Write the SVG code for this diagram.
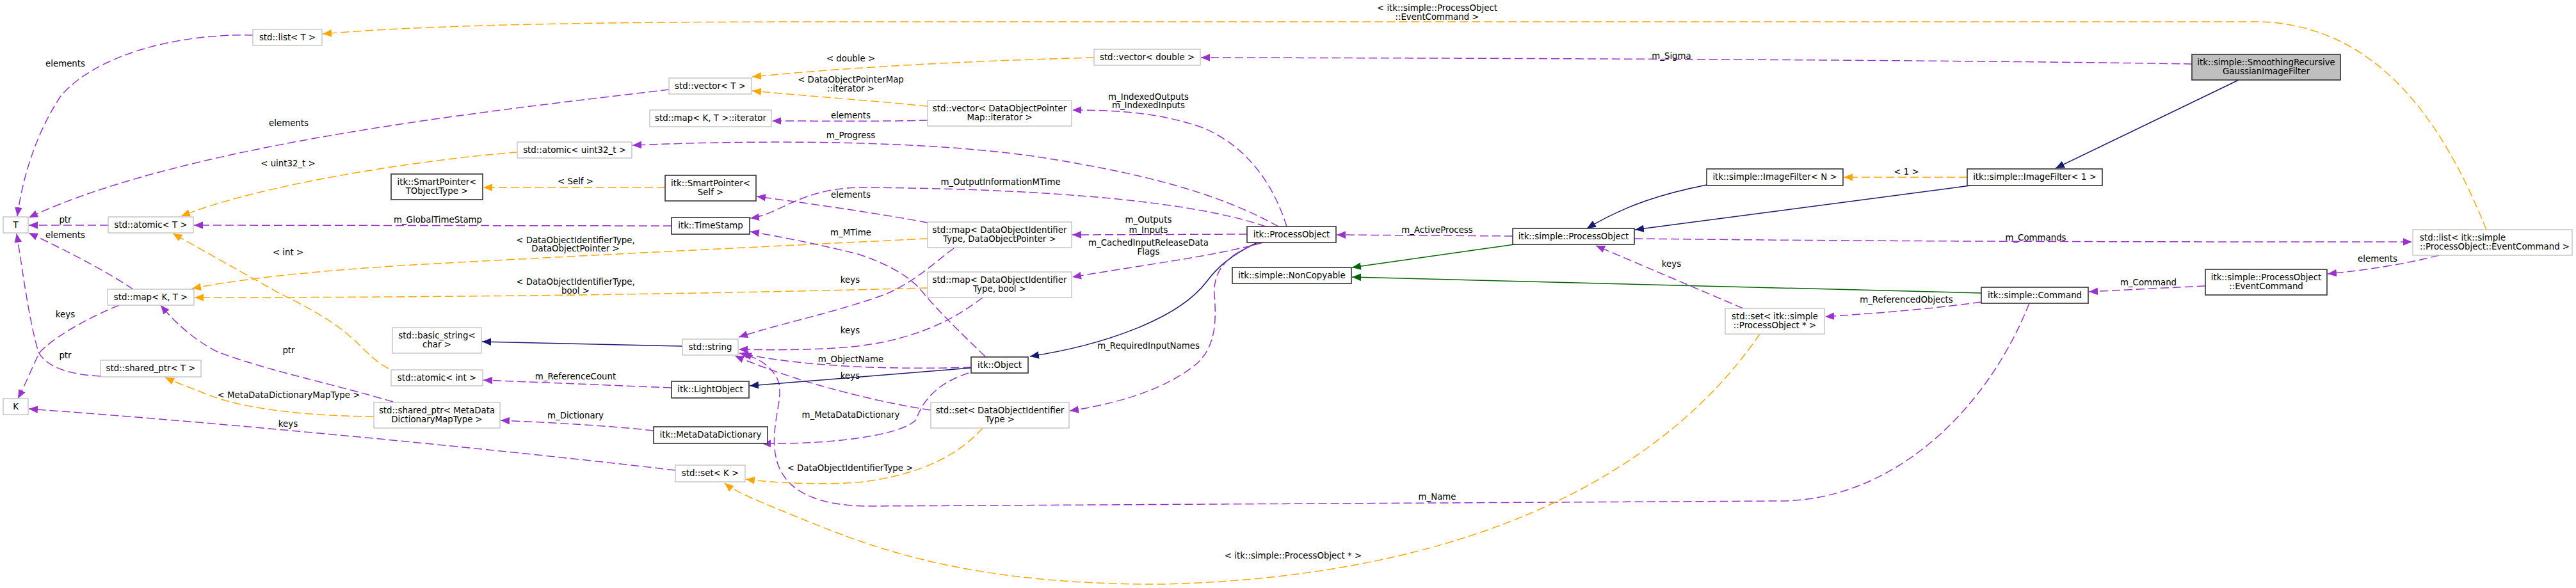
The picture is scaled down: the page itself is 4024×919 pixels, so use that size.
<svg xmlns="http://www.w3.org/2000/svg" width="4024" height="919" viewBox="0 0 4024 919">
<defs>
<style>
text{font-family:"DejaVu Sans","Liberation Sans",sans-serif;font-size:13.33px;fill:#000}
.m{text-anchor:middle}
.g{fill:#fff;stroke:#bfbfbf;stroke-width:1.3}
.b{fill:#fff;stroke:#333;stroke-width:1.6}
.s{fill:#bfbfbf;stroke:#333;stroke-width:1.6}
.ep{fill:none;stroke:#9a32cd;stroke-width:1.5;stroke-dasharray:13,6;marker-end:url(#ap)}
.eo{fill:none;stroke:#ffa500;stroke-width:1.5;stroke-dasharray:13,6;marker-end:url(#ao)}
.eb{fill:none;stroke:#191970;stroke-width:1.5;marker-end:url(#ab)}
.eg{fill:none;stroke:#006400;stroke-width:1.5;marker-end:url(#ag)}
</style>
<marker id="ap" markerUnits="userSpaceOnUse" markerWidth="14" markerHeight="12" viewBox="0 0 12 10" refX="12" refY="5" orient="auto"><path d="M0,0 L12,5 L0,10 z" fill="#9a32cd"/></marker>
<marker id="ao" markerUnits="userSpaceOnUse" markerWidth="14" markerHeight="12" viewBox="0 0 12 10" refX="12" refY="5" orient="auto"><path d="M0,0 L12,5 L0,10 z" fill="#ffa500"/></marker>
<marker id="ab" markerUnits="userSpaceOnUse" markerWidth="14" markerHeight="12" viewBox="0 0 12 10" refX="12" refY="5" orient="auto"><path d="M0,0 L12,5 L0,10 z" fill="#191970"/></marker>
<marker id="ag" markerUnits="userSpaceOnUse" markerWidth="14" markerHeight="12" viewBox="0 0 12 10" refX="12" refY="5" orient="auto"><path d="M0,0 L12,5 L0,10 z" fill="#006400"/></marker>
</defs>
<rect width="4024" height="919" fill="#fff"/>
<g id="edges">
<path class="eb" d="M3497,125 L3211,263"/>
<path class="eo" d="M3073,277 L2880,277"/>
<path class="eb" d="M3078,290 L2554,359"/>
<path class="eb" d="M2666,289 C2600,302 2540,320 2479,357"/>
<path class="ep" d="M3424,100 C3000,93 2300,91 1876,90"/>
<path class="eo" d="M1709,90 C1530,95 1350,103 1175,120"/>
<path class="eo" d="M1449,166 C1360,157 1260,150 1175,142"/>
<path class="ep" d="M1449,188 C1370,190 1290,189 1206,189"/>
<path class="ep" d="M2010,354 C1990,290 1950,230 1880,200 C1810,175 1740,172 1675,172"/>
<path class="ep" d="M1997,354 C1900,300 1780,270 1620,245 C1450,220 1200,218 988,227"/>
<path class="eo" d="M808,238 C650,250 400,290 283,338"/>
<path class="ep" d="M1449,348 C1380,335 1280,320 1182,307"/>
<path class="ep" d="M1977,354 C1850,310 1600,295 1350,293 C1250,293 1220,335 1172,341"/>
<path class="eo" d="M1449,373 C1200,385 900,400 680,412 C500,422 380,435 300,451"/>
<path class="eo" d="M1449,450 C1000,462 600,465 304,465"/>
<path class="ep" d="M1490,388 C1460,410 1430,440 1383,460 C1300,490 1220,505 1154,527"/>
<path class="ep" d="M1535,465 C1490,500 1430,530 1340,541 C1270,548 1200,547 1154,546"/>
<path class="ep" d="M1517,574 C1400,578 1260,574 1155,552"/>
<path class="ep" d="M1454,641 C1380,630 1250,600 1148,556"/>
<path class="ep" d="M3170,474 C3100,650 2950,783 2780,783 L1360,791 C1280,791 1215,770 1210,700 C1206,650 1230,610 1210,585 C1200,570 1185,560 1160,553"/>
<path class="eb" d="M1066,541 L753,534"/>
<path class="ep" d="M1049,606 L755,594"/>
<path class="eb" d="M1517,575 L1171,603"/>
<path class="eb" d="M1964,379 C1920,400 1900,420 1885,440 C1840,500 1720,540 1609,557"/>
<path class="ep" d="M1021,673 C950,665 850,660 782,657"/>
<path class="ep" d="M1513,583 C1460,600 1440,630 1431,656 C1410,680 1300,695 1190,693"/>
<path class="eo" d="M1535,669 C1490,720 1420,745 1340,754 C1280,758 1210,755 1165,749"/>
<path class="eo" d="M2749,522 C2600,740 2300,900 1820,913 C1500,915 1350,850 1250,810 C1190,785 1150,770 1132,755"/>
<path class="ep" d="M1055,735 C800,705 400,665 45,639"/>
<path class="eo" d="M584,651 C480,650 380,640 320,615 C295,605 275,598 258,590"/>
<path class="ep" d="M614,628 C520,600 420,580 340,550 C300,530 270,500 251,477"/>
<path class="ep" d="M157,588 C100,585 70,570 60,550 C45,500 35,420 26,365"/>
<path class="ep" d="M186,477 C130,500 80,530 61,552 C50,575 40,600 28,623"/>
<path class="ep" d="M208,452 C160,420 90,385 45,364"/>
<path class="ep" d="M169,352 L45,352"/>
<path class="eo" d="M607,576 C580,562 565,540 540,520 C510,495 470,475 434,457 L270,365"/>
<path class="ep" d="M1049,353 L303,352"/>
<path class="ep" d="M1045,140 C800,170 300,220 45,340"/>
<path class="ep" d="M395,55 C280,52 150,85 95,150 C55,210 35,280 27,338"/>
<path class="eo" d="M3884,359 C3820,200 3720,40 3530,34 L1300,34 C900,34 650,40 504,53"/>
<path class="ep" d="M2553,373 C3000,378 3400,378 3768,378"/>
<path class="ep" d="M3810,399 C3760,412 3700,422 3636,428"/>
<path class="ep" d="M3445,447 C3380,450 3320,453 3263,456"/>
<path class="eg" d="M3095,458 L2112,433"/>
<path class="eg" d="M2366,382 L2112,418"/>
<path class="ep" d="M2363,369 L2088,367"/>
<path class="ep" d="M2723,482 L2493,384"/>
<path class="ep" d="M3095,472 C3000,485 2920,490 2851,495"/>
<path class="ep" d="M1948,366 L1675,367"/>
<path class="ep" d="M1973,379 C1900,400 1780,415 1675,433"/>
<path class="ep" d="M1970,379 C1920,395 1895,420 1897,460 C1900,500 1900,540 1870,568 C1820,610 1740,632 1671,642"/>
<path class="ep" d="M1539,557 C1500,520 1460,480 1440,455 C1420,430 1380,410 1340,397 C1270,380 1220,370 1172,362"/>
<path class="eo" d="M1039,293 L755,293"/>
</g>
<g id="edge-labels">
<text class="m" x="102" y="104">elements</text>
<text class="m" x="451" y="197">elements</text>
<text class="m" x="450" y="260">&lt; uint32_t &gt;</text>
<text class="m" x="102" y="348">ptr</text>
<text class="m" x="102" y="372">elements</text>
<text class="m" x="450" y="399">&lt; int &gt;</text>
<text class="m" x="684" y="348">m_GlobalTimeStamp</text>
<text class="m" x="102" y="496">keys</text>
<text class="m" x="102" y="560">ptr</text>
<text class="m" x="451" y="552">ptr</text>
<text class="m" x="451" y="622">&lt; MetaDataDictionaryMapType &gt;</text>
<text class="m" x="450" y="667">keys</text>
<text class="m" x="1329" y="96">&lt; double &gt;</text>
<text class="m" x="1329" y="129">&lt; DataObjectPointerMap</text>
<text class="m" x="1329" y="143">::iterator &gt;</text>
<text class="m" x="1329" y="185">elements</text>
<text class="m" x="1329" y="216">m_Progress</text>
<text class="m" x="899" y="288">&lt; Self &gt;</text>
<text class="m" x="1329" y="309">elements</text>
<text class="m" x="1329" y="368">m_MTime</text>
<text class="m" x="899" y="380">&lt; DataObjectIdentifierType,</text>
<text class="m" x="899" y="393">DataObjectPointer &gt;</text>
<text class="m" x="899" y="445">&lt; DataObjectIdentifierType,</text>
<text class="m" x="899" y="459">bool &gt;</text>
<text class="m" x="1328" y="442">keys</text>
<text class="m" x="1328" y="521">keys</text>
<text class="m" x="1329" y="566">m_ObjectName</text>
<text class="m" x="1328" y="592">keys</text>
<text class="m" x="899" y="593">m_ReferenceCount</text>
<text class="m" x="899" y="654">m_Dictionary</text>
<text class="m" x="1329" y="653">m_MetaDataDictionary</text>
<text class="m" x="1328" y="736">&lt; DataObjectIdentifierType &gt;</text>
<text class="m" x="1794" y="156">m_IndexedOutputs</text>
<text class="m" x="1794" y="169">m_IndexedInputs</text>
<text class="m" x="1563" y="289">m_OutputInformationMTime</text>
<text class="m" x="1794" y="348">m_Outputs</text>
<text class="m" x="1794" y="364">m_Inputs</text>
<text class="m" x="1794" y="384">m_CachedInputReleaseData</text>
<text class="m" x="1794" y="398">Flags</text>
<text class="m" x="1794" y="545">m_RequiredInputNames</text>
<text class="m" x="2020" y="873">&lt; itk::simple::ProcessObject * &gt;</text>
<text class="m" x="2245" y="17">&lt; itk::simple::ProcessObject</text>
<text class="m" x="2245" y="31">::EventCommand &gt;</text>
<text class="m" x="2611" y="92">m_Sigma</text>
<text class="m" x="2245" y="364">m_ActiveProcess</text>
<text class="m" x="2611" y="417">keys</text>
<text class="m" x="2978" y="273">&lt; 1 &gt;</text>
<text class="m" x="3180" y="376">m_Commands</text>
<text class="m" x="3356" y="446">m_Command</text>
<text class="m" x="2978" y="473">m_ReferencedObjects</text>
<text class="m" x="3714" y="409">elements</text>
<text class="m" x="2245" y="781">m_Name</text>
</g>
<g id="n_list_T"><rect class="g" x="395" y="46" width="108" height="25"/><text class="m" x="449" y="63">std::list&lt; T &gt;</text></g>
<g id="n_T"><rect class="g" x="5" y="339" width="39" height="25"/><text class="m" x="24.5" y="356">T</text></g>
<g id="n_atomic_T"><rect class="g" x="169" y="339" width="133" height="25"/><text class="m" x="235.5" y="356">std::atomic&lt; T &gt;</text></g>
<g id="n_map_KT"><rect class="g" x="168" y="452" width="135" height="25"/><text class="m" x="235.5" y="469">std::map&lt; K, T &gt;</text></g>
<g id="n_K"><rect class="g" x="5" y="623" width="39" height="25"/><text class="m" x="24.5" y="640">K</text></g>
<g id="n_shared_ptr_T"><rect class="g" x="157" y="563" width="157" height="26"/><text class="m" x="235.5" y="580">std::shared_ptr&lt; T &gt;</text></g>
<g id="n_shared_ptr_MD"><rect class="g" x="584" y="629" width="197" height="40"/><text class="m" x="682.5" y="646">std::shared_ptr&lt; MetaData</text><text class="m" x="682.5" y="660">DictionaryMapType &gt;</text></g>
<g id="n_basic_string"><rect class="g" x="613" y="512" width="139" height="40"/><text class="m" x="682.5" y="529">std::basic_string&lt;</text><text class="m" x="682.5" y="543">char &gt;</text></g>
<g id="n_atomic_int"><rect class="g" x="611" y="578" width="143" height="25"/><text class="m" x="682.5" y="595">std::atomic&lt; int &gt;</text></g>
<g id="n_vector_T"><rect class="g" x="1045" y="122" width="129" height="25"/><text class="m" x="1109.5" y="139">std::vector&lt; T &gt;</text></g>
<g id="n_map_iter"><rect class="g" x="1015" y="172" width="190" height="26"/><text class="m" x="1110" y="189">std::map&lt; K, T &gt;::iterator</text></g>
<g id="n_atomic_u32"><rect class="g" x="808" y="222" width="179" height="25"/><text class="m" x="897.5" y="239">std::atomic&lt; uint32_t &gt;</text></g>
<g id="n_string"><rect class="g" x="1066" y="530" width="87" height="25"/><text class="m" x="1109.5" y="547">std::string</text></g>
<g id="n_set_K"><rect class="g" x="1055" y="727" width="109" height="26"/><text class="m" x="1109.5" y="744">std::set&lt; K &gt;</text></g>
<g id="n_vector_double"><rect class="g" x="1709" y="77" width="166" height="25"/><text class="m" x="1792" y="94">std::vector&lt; double &gt;</text></g>
<g id="n_vector_DOP"><rect class="g" x="1449" y="157" width="225" height="40"/><text class="m" x="1561.5" y="174">std::vector&lt; DataObjectPointer</text><text class="m" x="1561.5" y="188">Map::iterator &gt;</text></g>
<g id="n_map_DOI_DOP"><rect class="g" x="1449" y="347" width="225" height="40"/><text class="m" x="1561.5" y="364">std::map&lt; DataObjectIdentifier</text><text class="m" x="1561.5" y="378">Type, DataObjectPointer &gt;</text></g>
<g id="n_map_DOI_bool"><rect class="g" x="1449" y="425" width="225" height="40"/><text class="m" x="1561.5" y="442">std::map&lt; DataObjectIdentifier</text><text class="m" x="1561.5" y="456">Type, bool &gt;</text></g>
<g id="n_set_DOI"><rect class="g" x="1454" y="629" width="216" height="40"/><text class="m" x="1562" y="646">std::set&lt; DataObjectIdentifier</text><text class="m" x="1562" y="660">Type &gt;</text></g>
<g id="n_set_PO"><rect class="g" x="2695" y="482" width="155" height="40"/><text class="m" x="2772.5" y="499">std::set&lt; itk::simple</text><text class="m" x="2772.5" y="513">::ProcessObject * &gt;</text></g>
<g id="n_list_EC"><rect class="g" x="3769" y="359" width="249" height="40"/><text x="3780" y="376">std::list&lt; itk::simple</text><text x="3780" y="390">::ProcessObject::EventCommand &gt;</text></g>
<g id="n_sp_TObj"><rect class="b" x="611" y="272" width="143" height="40"/><text class="m" x="682.5" y="289">itk::SmartPointer&lt;</text><text class="m" x="682.5" y="303">TObjectType &gt;</text></g>
<g id="n_sp_Self"><rect class="b" x="1039" y="274" width="142" height="40"/><text class="m" x="1110" y="291">itk::SmartPointer&lt;</text><text class="m" x="1110" y="305">Self &gt;</text></g>
<g id="n_TimeStamp"><rect class="b" x="1049" y="340" width="122" height="26"/><text class="m" x="1110" y="357">itk::TimeStamp</text></g>
<g id="n_LightObject"><rect class="b" x="1049" y="596" width="121" height="26"/><text class="m" x="1109.5" y="613">itk::LightObject</text></g>
<g id="n_MDD"><rect class="b" x="1021" y="667" width="178" height="26"/><text class="m" x="1110" y="684">itk::MetaDataDictionary</text></g>
<g id="n_Object"><rect class="b" x="1517" y="558" width="89" height="25"/><text class="m" x="1561.5" y="575">itk::Object</text></g>
<g id="n_itkPO"><rect class="b" x="1948" y="354" width="139" height="25"/><text class="m" x="2017.5" y="371">itk::ProcessObject</text></g>
<g id="n_NonCopyable"><rect class="b" x="1925" y="418" width="186" height="25"/><text class="m" x="2018" y="435">itk::simple::NonCopyable</text></g>
<g id="n_simplePO"><rect class="b" x="2363" y="357" width="190" height="25"/><text class="m" x="2458" y="374">itk::simple::ProcessObject</text></g>
<g id="n_IF_N"><rect class="b" x="2666" y="264" width="213" height="26"/><text class="m" x="2772.5" y="281">itk::simple::ImageFilter&lt; N &gt;</text></g>
<g id="n_IF_1"><rect class="b" x="3073" y="264" width="211" height="26"/><text class="m" x="3178.5" y="281">itk::simple::ImageFilter&lt; 1 &gt;</text></g>
<g id="n_Command"><rect class="b" x="3095" y="449" width="167" height="25"/><text class="m" x="3178.5" y="466">itk::simple::Command</text></g>
<g id="n_EC"><rect class="b" x="3445" y="421" width="190" height="40"/><text class="m" x="3540" y="438">itk::simple::ProcessObject</text><text class="m" x="3540" y="452">::EventCommand</text></g>
<g id="n_Smoothing"><rect class="s" x="3424" y="85" width="232" height="40"/><text class="m" x="3540" y="102">itk::simple::SmoothingRecursive</text><text class="m" x="3540" y="116">GaussianImageFilter</text></g>
</svg>
